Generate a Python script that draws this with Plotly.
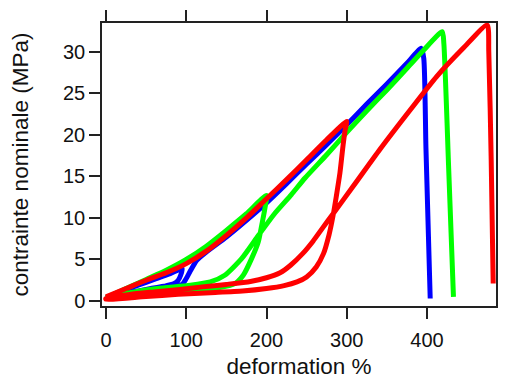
import plotly.graph_objects as go

# Blue: low-strain cycles then loading to break
blue_x = [0, 20, 40, 60, 80, 95, 93, 90, 85, 70, 50, 25, 0,
          0, 25, 50, 75, 95, 100, 105, 113, 125, 150, 175, 200, 225, 250, 275, 300,
          325, 350, 375, 393, 396, 398.7, 404]
blue_y = [0.4, 1.2, 1.9, 2.6, 3.3, 3.9, 3.1, 2.5, 2.1, 1.7, 1.3, 0.8, 0.3,
          0.3, 0.9, 1.4, 1.8, 2.0, 2.7, 3.6, 4.9, 5.9, 7.7, 9.7, 11.8, 14.1, 16.5, 18.8, 21.2,
          23.7, 26.1, 28.6, 30.4, 29.2, 18.4, 0.3]

# Green: load to 200 %, unload, reload to break
green_x = [0, 25, 50, 75, 100, 125, 150, 175, 200,
           198, 194, 189.7, 181.4, 171, 160.6, 140, 100, 50, 20, 0,
           0, 30, 64, 105, 130, 148, 169, 190, 210, 231, 248, 275, 300, 325, 350, 375, 396, 419,
           421, 427, 433]
green_y = [0.4, 1.5, 2.6, 3.7, 5.0, 6.6, 8.5, 10.5, 12.7,
           11.15, 9.1, 7.1, 5.1, 3.1, 2.1, 1.6, 1.2, 0.8, 0.5, 0.3,
           0.3, 1.0, 1.5, 1.9, 2.3, 3.1, 5.1, 7.9, 10.5, 12.8, 14.8, 17.6, 20.3, 22.9, 25.4, 28.0, 30.2, 32.4,
           31.0, 16.0, 0.5]

# Red: load to 300 %, unload, reload to break
red_x = [0, 25, 50, 75, 100, 125, 150, 175, 200, 225, 250, 275, 300,
         298, 295.5, 291.5, 287, 283, 278, 271, 262, 250, 238, 222, 200, 170, 130, 90, 50, 0,
         0, 30, 60, 92, 120, 150, 180, 200, 217, 230, 245, 258, 270, 283, 308, 341, 380, 412, 445, 475,
         477, 480, 482.5]
red_y = [0.5, 1.5, 2.5, 3.4, 4.5, 6.0, 7.9, 10.0, 12.3, 14.6, 17.0, 19.4, 21.6,
         20.6, 18.8, 15.4, 12.6, 10.3, 8.0, 5.7, 4.1, 2.9, 2.3, 1.85, 1.5, 1.2, 1.0, 0.8, 0.55, 0.2,
         0.3, 0.8, 1.1, 1.4, 1.7, 2.0, 2.35, 2.8, 3.4, 4.3, 5.7, 7.2, 8.8, 10.5, 13.8, 18.2, 23.1, 27.0, 30.4, 33.2,
         30.0, 17.0, 2.1]

x_ticks = [0, 100, 200, 300, 400]
y_ticks = [0, 5, 10, 15, 20, 25, 30]

fig = go.Figure()
for xs, ys, col in [(blue_x, blue_y, "#0000ff"), (green_x, green_y, "#00ff00"), (red_x, red_y, "#ff0000")]:
    fig.add_trace(go.Scatter(x=xs, y=ys, mode="lines",
                             line=dict(color=col, width=5, shape="spline", smoothing=0.6),
                             showlegend=False))

font = dict(family="Liberation Sans, Arial, sans-serif", size=20, color="#111")
axis_common = dict(showgrid=False, zeroline=False, showline=True, linecolor="#222", linewidth=1.5,
                   mirror="ticks", ticks="outside", ticklen=11, tickwidth=1.5, tickcolor="#222",
                   tickfont=font, automargin=False)
# page body has an 8px default margin; size the figure so the plot area lands where the reference has it
fig.update_layout(
    width=498, height=371,
    margin=dict(l=94, r=10, t=15, b=73),
    paper_bgcolor="white", plot_bgcolor="white",
    xaxis=dict(range=[-5, 486], tickvals=x_ticks, ticklabelstandoff=4, **axis_common,
               title=dict(text="deformation %", font=dict(family=font["family"], size=22.5, color="#111"), standoff=10)),
    yaxis=dict(range=[-0.6, 33.45], tickvals=y_ticks, **axis_common,
               title=dict(text="contrainte nominale (MPa)", font=dict(family=font["family"], size=22.5, color="#111"), standoff=33)),
)
fig.write_html("out.html")
